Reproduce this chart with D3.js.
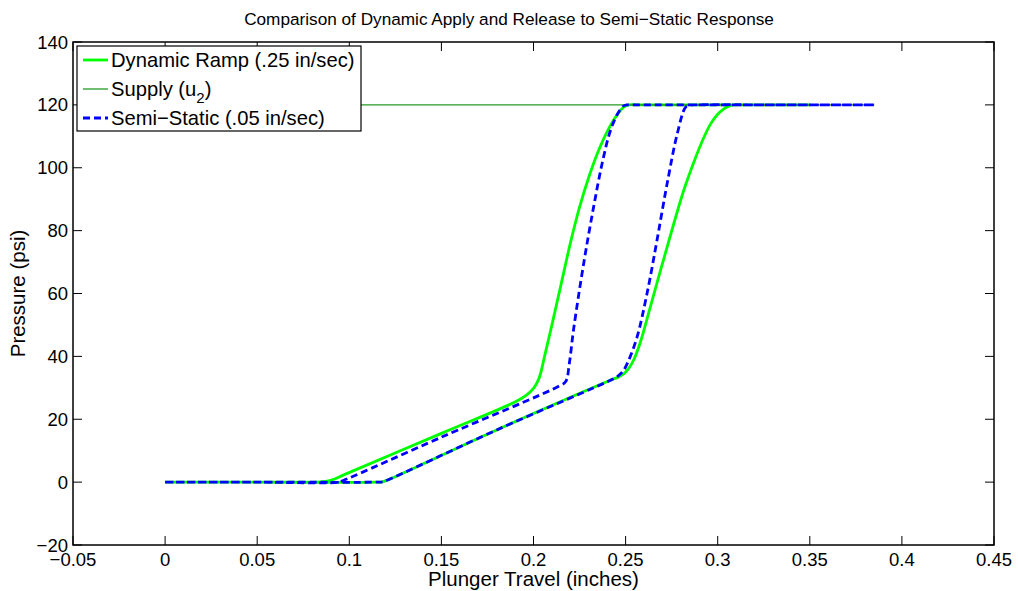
<!DOCTYPE html>
<html>
<head>
<meta charset="utf-8">
<script src="https://cdn.jsdelivr.net/npm/d3@7"></script>
<style>
  body { margin: 0; background: #fff; }
  text { font-family: "Liberation Sans", Arial, Helvetica, sans-serif; }
</style>
</head>
<body>
<div id="chart"></div>
<script>
////////////////////////////////////////
// data
////////////////////////////////////////

var xTicks = [-0.05, 0, 0.05, 0.1, 0.15, 0.2, 0.25, 0.3, 0.35, 0.4, 0.45];
var yTicks = [-20, 0, 20, 40, 60, 80, 100, 120, 140];

// dynamic ramp: apply branch then release branch
var dynX = [0, 0.05, 0.084, 0.088, 0.092, 0.097, 0.15, 0.19, 0.196, 0.2, 0.203, 0.206, 0.21, 0.215, 0.22, 0.225, 0.23, 0.235, 0.24, 0.245, 0.249, 0.252, 0.257, 0.3, 0.35,
            0.33, 0.314, 0.309, 0.306, 0.303, 0.3, 0.296, 0.292, 0.2875, 0.2815, 0.2725, 0.2634, 0.258, 0.2545, 0.2515, 0.2489, 0.246, 0.243, 0.18, 0.1205, 0.118, 0.115, 0.05, 0];
var dynY = [0, 0, 0, 0.3, 1.0, 2.3, 15.5, 25.5, 27.6, 29.8, 33, 40, 50, 63, 76, 87.5, 97, 105, 111.5, 116.5, 119.3, 120, 120, 120, 120,
            120, 120, 120, 119.6, 118.6, 117, 113.8, 109, 102.5, 92.7, 74.7, 55.7, 44.5, 39, 36, 34.4, 33.4, 32.7, 16.6, 0.6, 0.1, 0, 0, 0];

// supply pressure
var supX = [0, 0.385];
var supY = [120, 120];

// semi-static: apply branch then release branch
var semX = [0, 0.05, 0.094, 0.097, 0.15, 0.214, 0.2175, 0.2195, 0.2217, 0.2272, 0.2326, 0.2372, 0.2417, 0.246, 0.249, 0.251, 0.256, 0.32, 0.385,
            0.33, 0.288, 0.2845, 0.2825, 0.278, 0.2725, 0.267, 0.2616, 0.2562, 0.2515, 0.2485, 0.246, 0.2435, 0.18, 0.1205, 0.118, 0.115, 0.05, 0];
var semY = [0, 0, 0, 0.6, 14.3, 30.6, 32, 38, 48.3, 69.4, 87.4, 101.2, 111.7, 117.5, 119.7, 120, 120, 120, 120,
            120, 120, 119.8, 119.2, 110.7, 94.8, 76.8, 59.9, 46.1, 38.5, 35.2, 33.8, 32.9, 16.6, 0.6, 0.1, 0, 0, 0];

var seriesNames = ['Dynamic Ramp (.25 in/sec)', 'Supply (u', 'Semi\u2212Static (.05 in/sec)'];

////////////////////////////////////////
// layout
////////////////////////////////////////

var W = 1018, H = 591;
var plotL = 73, plotR = 994, plotT = 42, plotB = 545;

var svg = d3.select('#chart').append('svg')
	.attr('width', W)
	.attr('height', H);

var x = d3.scaleLinear().domain([-0.05, 0.45]).range([plotL, plotR]);
var y = d3.scaleLinear().domain([-20, 140]).range([plotB, plotT]);

var fmt = function(d){ return d3.format('~g')(d).replace('-', '\u2212'); };

svg.append('rect')
	.attr('x', plotL).attr('y', plotT)
	.attr('width', plotR - plotL).attr('height', plotB - plotT)
	.attr('fill', 'white');

////////////////////////////////////////
// lines
////////////////////////////////////////

function pts(xs, ys){
	return xs.map(function(v, i){ return [v, ys[i]]; });
}

var line = d3.line()
	.x(function(d){ return x(d[0]); })
	.y(function(d){ return y(d[1]); })
	.curve(d3.curveCatmullRom.alpha(0.5));

var plot = svg.append('g');

plot.append('path')
	.attr('d', line(pts(dynX, dynY)))
	.attr('fill', 'none')
	.attr('stroke', '#00ff00')
	.attr('stroke-width', 2.8)
	.attr('stroke-linejoin', 'round');

plot.append('path')
	.attr('d', line(pts(supX, supY)))
	.attr('fill', 'none')
	.attr('stroke', '#259a25')
	.attr('stroke-width', 1.3);

plot.append('path')
	.attr('d', line(pts(semX, semY)))
	.attr('fill', 'none')
	.attr('stroke', '#0000ff')
	.attr('stroke-width', 2.8)
	.attr('stroke-dasharray', '7,4');

////////////////////////////////////////
// axes (box with inward ticks)
////////////////////////////////////////

var tickLen = 9;
var axes = svg.append('g').attr('stroke', 'black').attr('stroke-width', 1);

axes.selectAll('.xt').data(xTicks).enter().append('line')
	.attr('x1', function(d){ return x(d); }).attr('x2', function(d){ return x(d); })
	.attr('y1', plotB).attr('y2', plotB - tickLen);
axes.selectAll('.xt2').data(xTicks).enter().append('line')
	.attr('x1', function(d){ return x(d); }).attr('x2', function(d){ return x(d); })
	.attr('y1', plotT).attr('y2', plotT + tickLen);
axes.selectAll('.yt').data(yTicks).enter().append('line')
	.attr('y1', function(d){ return y(d); }).attr('y2', function(d){ return y(d); })
	.attr('x1', plotL).attr('x2', plotL + tickLen);
axes.selectAll('.yt2').data(yTicks).enter().append('line')
	.attr('y1', function(d){ return y(d); }).attr('y2', function(d){ return y(d); })
	.attr('x1', plotR).attr('x2', plotR - tickLen);

svg.append('rect')
	.attr('x', plotL).attr('y', plotT)
	.attr('width', plotR - plotL).attr('height', plotB - plotT)
	.attr('fill', 'none')
	.attr('stroke', 'black')
	.attr('stroke-width', 1.5);

svg.selectAll('.xl').data(xTicks).enter().append('text')
	.attr('x', function(d){ return x(d); })
	.attr('y', 566)
	.attr('text-anchor', 'middle')
	.attr('font-size', 18.5)
	.text(fmt);

svg.selectAll('.yl').data(yTicks).enter().append('text')
	.attr('x', plotL - 5)
	.attr('y', function(d){ return y(d) + 6.5; })
	.attr('text-anchor', 'end')
	.attr('font-size', 18.5)
	.text(fmt);

svg.append('text')
	.attr('x', W / 2)
	.attr('y', 25)
	.attr('text-anchor', 'middle')
	.attr('font-size', 17.2)
	.text('Comparison of Dynamic Apply and Release to Semi\u2212Static Response');

svg.append('text')
	.attr('x', (plotL + plotR) / 2)
	.attr('y', 586)
	.attr('text-anchor', 'middle')
	.attr('font-size', 20.5)
	.text('Plunger Travel (inches)');

svg.append('text')
	.attr('transform', 'translate(25,' + ((plotT + plotB) / 2) + ') rotate(-90)')
	.attr('text-anchor', 'middle')
	.attr('font-size', 20.5)
	.text('Pressure (psi)');

////////////////////////////////////////
// legend
////////////////////////////////////////

var leg = svg.append('g');
leg.append('rect')
	.attr('x', 77).attr('y', 46)
	.attr('width', 284).attr('height', 85)
	.attr('fill', 'white')
	.attr('stroke', 'black')
	.attr('stroke-width', 1.2);

var legRows = [60, 89, 118];
var legStyles = [
	{ c: '#00ff00', w: 2.8, dash: null },
	{ c: '#259a25', w: 1.3, dash: null },
	{ c: '#0000ff', w: 2.8, dash: '7,4' }
];

legStyles.forEach(function(s, i){
	leg.append('line')
		.attr('x1', 83).attr('x2', 108)
		.attr('y1', legRows[i]).attr('y2', legRows[i])
		.attr('stroke', s.c)
		.attr('stroke-width', s.w)
		.attr('stroke-dasharray', s.dash);
	var t = leg.append('text')
		.attr('x', 111)
		.attr('y', legRows[i] + 7)
		.attr('font-size', 20.2)
		.text(seriesNames[i]);
	if (i === 1) {
		t.append('tspan').attr('dy', 7).attr('font-size', 15).text('2');
		t.append('tspan').attr('dy', -7).text(')');
	}
});
</script>
</body>
</html>
